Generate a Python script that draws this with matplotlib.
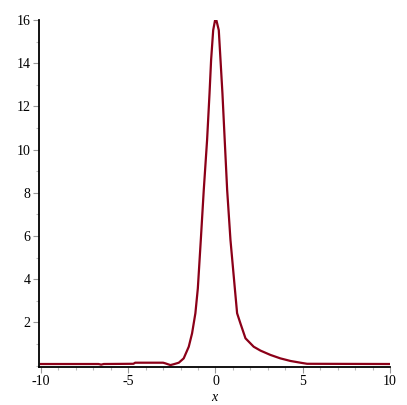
import matplotlib
matplotlib.use("Agg")
import matplotlib.pyplot as plt
import matplotlib.ticker as ticker

plt.rc('font', family="Liberation Serif")

# curve
x_pts = [-10, -6.7, -6.55, -6.4, -4.7, -4.6, -3.0, -2.87, -2.58, -2.39, -2.10,
         -1.82, -1.53, -1.34, -1.15, -1.01, -0.84, -0.67, -0.48, -0.34, -0.25,
         -0.13, -0.02, 0.05, 0.19, 0.29, 0.40, 0.53, 0.67, 0.86, 1.11, 1.24,
         1.43, 1.72, 2.19, 2.58, 3.15, 3.72, 4.30, 4.87, 5.25, 10]
y_pts = [0.07, 0.07, 0.04, 0.07, 0.08, 0.13, 0.13, 0.10, 0.02, 0.06, 0.13,
         0.33, 0.87, 1.49, 2.42, 3.57, 5.81, 8.13, 10.44, 12.6, 14.14,
         15.53, 16.0, 16.0, 15.53, 14.14, 12.6, 10.44, 8.13, 5.81, 3.57, 2.42,
         1.95, 1.26, 0.87, 0.69, 0.49, 0.33, 0.21, 0.13, 0.08, 0.07]
x_ticks = [-10, -5, 0, 5, 10]
y_ticks = [2, 4, 6, 8, 10, 12, 14, 16]

fig = plt.figure(figsize=(4.07, 4.05), dpi=100)
ax = fig.add_axes([39 / 407, (405 - 366.7) / 405, (390 - 39) / 407, (366.7 - 20) / 405])
ax.plot(x_pts, y_pts, color='#8b0018', linewidth=1.6, solid_joinstyle='round')

ax.set_xlim(-10.11, 10)
ax.set_ylim(-0.055, 16)
for s in ['top', 'right']:
    ax.spines[s].set_visible(False)
for s in ['left', 'bottom']:
    ax.spines[s].set_linewidth(1.3)

ax.set_xticks(x_ticks)
ax.set_xticklabels([str(v) for v in x_ticks])
ax.set_yticks(y_ticks)
ax.set_yticklabels([str(v) for v in y_ticks])
ax.xaxis.set_minor_locator(ticker.MultipleLocator(1))
ax.yaxis.set_minor_locator(ticker.MultipleLocator(1))
ax.tick_params(which='major', length=4, width=0.8, color='#999999',
               labelsize=10, pad=2)
ax.tick_params(which='minor', length=2.5, width=0.8, color='#bbbbbb')
ax.set_xlabel('x', fontstyle='italic', fontsize=10, labelpad=2)

plt.savefig('out.png', dpi=100)
